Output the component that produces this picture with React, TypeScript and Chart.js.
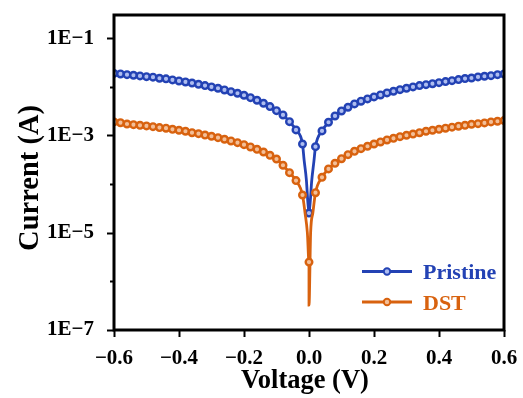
import React, { useEffect, useRef } from 'react';
import { Chart, registerables } from 'chart.js';

Chart.register(...registerables);

// ---------- data ----------
const voltage = [
  -0.60, -0.58, -0.56, -0.54, -0.52, -0.50, -0.48, -0.46, -0.44, -0.42,
  -0.40, -0.38, -0.36, -0.34, -0.32, -0.30, -0.28, -0.26, -0.24, -0.22,
  -0.20, -0.18, -0.16, -0.14, -0.12, -0.10, -0.08, -0.06, -0.04, -0.02,
  0.00,
  0.02, 0.04, 0.06, 0.08, 0.10, 0.12, 0.14, 0.16, 0.18, 0.20,
  0.22, 0.24, 0.26, 0.28, 0.30, 0.32, 0.34, 0.36, 0.38, 0.40,
  0.42, 0.44, 0.46, 0.48, 0.50, 0.52, 0.54, 0.56, 0.58, 0.60,
];

const pristineCurrent = [
  1.89e-2, 1.84e-2, 1.78e-2, 1.73e-2, 1.68e-2, 1.62e-2, 1.58e-2, 1.50e-2, 1.46e-2, 1.39e-2,
  1.32e-2, 1.26e-2, 1.20e-2, 1.13e-2, 1.06e-2, 9.95e-3, 9.36e-3, 8.63e-3, 7.96e-3, 7.38e-3,
  6.71e-3, 6.00e-3, 5.30e-3, 4.60e-3, 3.92e-3, 3.24e-3, 2.64e-3, 1.92e-3, 1.30e-3, 6.68e-4,
  2.54e-5,
  5.89e-4, 1.24e-3, 1.87e-3, 2.52e-3, 3.19e-3, 3.80e-3, 4.45e-3, 5.06e-3, 5.64e-3, 6.20e-3,
  6.81e-3, 7.49e-3, 8.12e-3, 8.76e-3, 9.36e-3, 9.95e-3, 1.06e-2, 1.11e-2, 1.16e-2, 1.22e-2,
  1.28e-2, 1.34e-2, 1.41e-2, 1.48e-2, 1.52e-2, 1.60e-2, 1.65e-2, 1.70e-2, 1.78e-2, 1.84e-2,
];

const dstCurrent = [
  1.90e-3, 1.83e-3, 1.72e-3, 1.67e-3, 1.62e-3, 1.57e-3, 1.52e-3, 1.45e-3, 1.41e-3, 1.34e-3,
  1.28e-3, 1.22e-3, 1.14e-3, 1.09e-3, 1.02e-3, 9.63e-4, 9.02e-4, 8.36e-4, 7.71e-4, 7.11e-4,
  6.47e-4, 5.80e-4, 5.20e-4, 4.57e-4, 3.91e-4, 3.28e-4, 2.44e-4, 1.72e-4, 1.18e-4, 5.97e-5,
  2.49e-6,
  6.65e-5, 1.38e-4, 2.05e-4, 2.68e-4, 3.33e-4, 4.03e-4, 4.73e-4, 5.35e-4, 6.00e-4, 6.68e-4,
  7.35e-4, 8.08e-4, 8.75e-4, 9.45e-4, 1.01e-3, 1.07e-3, 1.14e-3, 1.22e-3, 1.28e-3, 1.34e-3,
  1.41e-3, 1.48e-3, 1.55e-3, 1.62e-3, 1.70e-3, 1.75e-3, 1.81e-3, 1.90e-3, 1.96e-3, 2.02e-3,
];

// dense sweep points near 0 V (line only, no symbol)
const pristineSweepV = [-0.015, -0.008, -0.004, 0.004, 0.008, 0.015];
const pristineSweepI = [3.1e-4, 1.2e-4, 4.7e-5, 4.5e-5, 1.1e-4, 2.9e-4];
const dstSweepV = [-0.012, -0.005, 0.0, 0.005, 0.012];
const dstSweepI = [2.5e-5, 1.0e-5, 3.25e-7, 1.0e-5, 2.6e-5];

const seriesLabels = ['Pristine', 'DST'];
const seriesColors = ['#2342b4', '#d8620f'];
const seriesFill = ['#aebdf0', '#f3bf98'];

const xTitle = 'Voltage (V)';
const yTitle = 'Current (A)';
const xTickValues = [-0.6, -0.4, -0.2, 0.0, 0.2, 0.4, 0.6];
const yTickValues = [1e-7, 1e-6, 1e-5, 1e-4, 1e-3, 1e-2, 1e-1];

const FONT = "'Liberation Serif', 'Times New Roman', serif";

type Pt = { x: number; y: number; m: boolean; k: number };

function buildSeries(vs: number[], is: number[], sv: number[], si: number[]): Pt[] {
  const pts: Pt[] = [];
  vs.forEach((v, k) => pts.push({ x: v, y: is[k], m: true, k }));
  sv.forEach((v, k) => pts.push({ x: v, y: si[k], m: false, k: 1000 + k }));
  return pts.sort((a, b) => a.x - b.x || a.k - b.k);
}

const fmtX = (v: number) => {
  if (Math.abs(v) < 1e-9) return '0.0';
  return (v < 0 ? '\u2212' : '') + Math.abs(v).toFixed(1);
};
const fmtY = (v: number) => {
  const e = Math.round(Math.log10(v));
  if (Math.abs(e) % 2 === 1) return '1E' + (e < 0 ? '\u2212' : '') + Math.abs(e);
  return '';
};

const framePlugin = {
  id: 'framePlugin',
  afterDraw(chart: any) {
    const { ctx, chartArea: a, scales } = chart;
    ctx.save();
    ctx.strokeStyle = '#000';
    ctx.lineCap = 'butt';
    ctx.lineWidth = 2;
    yTickValues.forEach((v) => {
      const y = Math.round(scales.y.getPixelForValue(v)) + 0.5;
      const major = Math.abs(Math.round(Math.log10(v))) % 2 === 1;
      ctx.beginPath();
      ctx.moveTo(a.left, y);
      ctx.lineTo(a.left - (major ? 7 : 4), y);
      ctx.stroke();
    });
    xTickValues.forEach((v) => {
      const x = Math.round(scales.x.getPixelForValue(v)) + 0.5;
      ctx.beginPath();
      ctx.moveTo(x, a.bottom);
      ctx.lineTo(x, a.bottom + 7);
      ctx.stroke();
    });
    ctx.lineWidth = 3;
    ctx.strokeRect(a.left, a.top, a.right - a.left, a.bottom - a.top);

    // axis titles
    ctx.fillStyle = '#000';
    ctx.textAlign = 'center';
    ctx.textBaseline = 'alphabetic';
    ctx.font = `bold 26.5px ${FONT}`;
    ctx.fillText(xTitle, (a.left + a.right) / 2 - 4, a.bottom + 58);
    ctx.save();
    ctx.translate(38, (a.top + a.bottom) / 2 + 5.5);
    ctx.rotate(-Math.PI / 2);
    ctx.font = `bold 28.5px ${FONT}`;
    ctx.fillText(yTitle, 0, 0);
    ctx.restore();

    // legend inside plot, bottom-right
    const rows = [a.bottom - 58.5, a.bottom - 28];
    chart.data.datasets.forEach((ds: any, i: number) => {
      const y = rows[i];
      ctx.strokeStyle = ds.borderColor;
      ctx.lineWidth = 3;
      ctx.beginPath();
      ctx.moveTo(a.right - 142, y);
      ctx.lineTo(a.right - 92, y);
      ctx.stroke();
      ctx.beginPath();
      ctx.arc(a.right - 117, y, 3.2, 0, Math.PI * 2);
      ctx.fillStyle = seriesFill[i];
      ctx.fill();
      ctx.lineWidth = 2;
      ctx.stroke();
      ctx.fillStyle = ds.borderColor;
      ctx.font = `bold 22px ${FONT}`;
      ctx.textBaseline = 'alphabetic';
      ctx.textAlign = 'left';
      ctx.fillText(ds.label, a.right - 81, y + 7.5);
    });
    ctx.restore();
  },
};

export default function App() {
  const ref = useRef<HTMLCanvasElement | null>(null);

  useEffect(() => {
    if (!ref.current) return;
    const pristine = buildSeries(voltage, pristineCurrent, pristineSweepV, pristineSweepI);
    const dst = buildSeries(voltage, dstCurrent, dstSweepV, dstSweepI);
    const mkDs = (label: string, data: Pt[], i: number, order: number) => ({
      label,
      data,
      order,
      borderColor: seriesColors[i],
      backgroundColor: seriesColors[i],
      borderWidth: 2.8,
      cubicInterpolationMode: 'monotone' as const,
      pointRadius: (c: any) => (c.raw && c.raw.m ? 3.3 : 0),
      pointHoverRadius: 0,
      pointBorderWidth: 2.4,
      pointBorderColor: seriesColors[i],
      pointBackgroundColor: seriesFill[i],
      fill: false,
    });
    const chart = new Chart(ref.current, {
      type: 'line',
      data: {
        datasets: [
          mkDs(seriesLabels[0], pristine, 0, 1),
          mkDs(seriesLabels[1], dst, 1, 0),
        ],
      },
      options: {
        animation: false,
        responsive: false,
        devicePixelRatio: 1,
        layout: { padding: { top: 15, right: 19, left: 0, bottom: 0 } },
        plugins: { legend: { display: false }, tooltip: { enabled: false } },
        scales: {
          x: {
            type: 'linear',
            min: -0.6,
            max: 0.6,
            grid: { display: false },
            border: { display: false },
            afterBuildTicks: (s: any) => {
              s.ticks = xTickValues.map((v) => ({ value: v }));
            },
            afterFit: (s: any) => {
              s.height = 68;
              s.paddingLeft = 0;
              s.paddingRight = 0;
            },
            ticks: {
              autoSkip: false,
              maxRotation: 0,
              padding: 8,
              color: '#000',
              font: { family: FONT, size: 21, weight: 'bold' },
              callback: (v: any) => fmtX(Number(v)),
            },
            title: { display: false },
          },
          y: {
            type: 'logarithmic',
            min: 1e-7,
            max: 0.3,
            grid: { display: false },
            border: { display: false },
            afterBuildTicks: (s: any) => {
              s.ticks = yTickValues.map((v) => ({ value: v }));
            },
            afterFit: (s: any) => {
              s.width = 114;
              s.paddingTop = 0;
              s.paddingBottom = 0;
            },
            ticks: {
              autoSkip: false,
              padding: 12,
              color: '#000',
              font: { family: FONT, size: 21, weight: 'bold' },
              callback: (v: any) => fmtY(Number(v)),
            },
            title: { display: false },
          },
        },
      },
      plugins: [framePlugin],
    } as any);
    return () => chart.destroy();
  }, []);

  return (
    <div style={{ position: 'absolute', left: 0, top: 0, width: 523, height: 398, background: '#fff' }}>
      <canvas ref={ref} width={523} height={398} />
    </div>
  );
}
